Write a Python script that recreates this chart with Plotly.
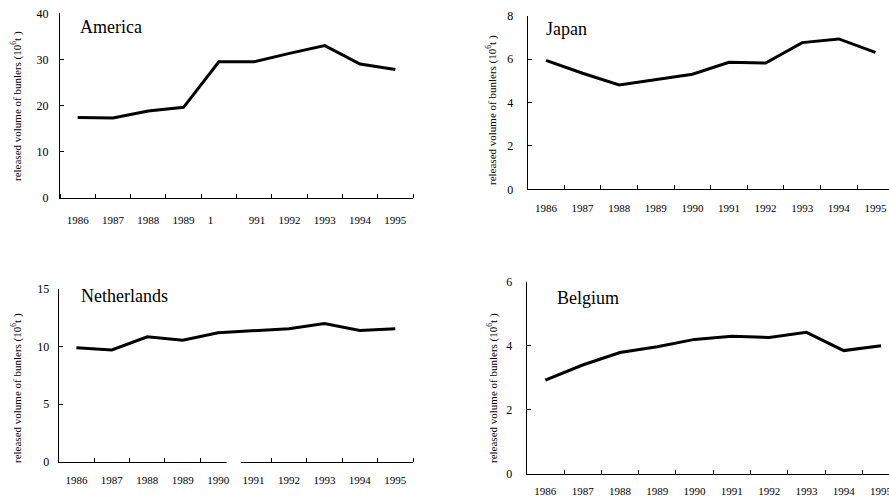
import plotly.graph_objects as go

years = [1986, 1987, 1988, 1989, 1990, 1991, 1992, 1993, 1994, 1995]
america = [17.4, 17.3, 18.8, 19.6, 29.5, 29.5, 31.3, 33.0, 29.0, 27.8]
japan = [5.94, 5.35, 4.81, 5.04, 5.30, 5.85, 5.82, 6.76, 6.93, 6.31]
netherlands = [9.9, 9.7, 10.85, 10.55, 11.2, 11.4, 11.55, 12.0, 11.4, 11.55]
belgium = [2.93, 3.40, 3.79, 3.97, 4.20, 4.30, 4.26, 4.42, 3.85, 4.00]

labels_america = ["1986", "1987", "1988", "1989", "1\u00a0\u00a0\u00a0\u00a0\u00a0\u00a0",
                  "\u00a0\u00a0991", "1992", "1993", "1994", "1995"]
labels_default = [str(y) for y in years]

names = ["America", "Japan", "Netherlands", "Belgium"]
ytitle = "released volume of bunlers (10<sup>6</sup>t )"

W, H = 889, 500
FONT = "Liberation Serif, Times New Roman, serif"

def px(x):
    return x / W

def py(y):
    return 1 - y / H

panels = [
    dict(data=america, labels=labels_america, l=60, r=413, b=197.7, t=13.3, xend=1995.5, ymax=40, dt=10, xs=12, ys=8,
         title_xy=(78, 27), yt_xy=(17, 106)),
    dict(data=japan, labels=labels_default, l=527.7, r=889, b=189.3, t=15.7, xend=1985.5 + (889 - 527.7) / 36.6,
         ymax=8, dt=2, xs=8, ys=11, title_xy=(544, 29), yt_xy=(492, 110)),
    dict(data=netherlands, labels=labels_default, l=58.7, r=413, b=461.7, t=289, xend=1995.5, ymax=15, dt=5, xs=8, ys=6,
         title_xy=(79, 296), yt_xy=(16, 388)),
    dict(data=belgium, labels=labels_default, l=526.7, r=889, b=474, t=281.7, xend=1985.5 + (889 - 526.7) / 37.3,
         ymax=6, dt=2, xs=7, ys=11, title_xy=(555, 298), yt_xy=(492, 388)),
]

fig = go.Figure()
annotations = []
for i, (p, name) in enumerate(zip(panels, names)):
    k = "" if i == 0 else str(i + 1)
    fig.add_trace(go.Scatter(x=years, y=p["data"], mode="lines",
                             line=dict(color="black", width=3),
                             xaxis="x" + k, yaxis="y" + k, showlegend=False,
                             hoverinfo="skip"))
    boundaries = [y - 0.5 for y in years] + [years[-1] + 0.5]
    fig.update_layout(**{
        "xaxis" + k: dict(
            domain=[px(p["l"]), px(p["r"])], anchor="y" + k, automargin=False,
            range=[1985.5, p["xend"]], showline=True, linecolor="black", linewidth=1,
            tickmode="array", tickvals=years, ticktext=p["labels"], ticks="",
            minor=dict(tickmode="array", tickvals=boundaries, ticks="inside", ticklen=4,
                       tickcolor="black", tickwidth=1, showgrid=False),
            showgrid=False, zeroline=False, fixedrange=True,
            ticklabelstandoff=p["xs"], ticklabeloverflow="allow",
            tickfont=dict(family=FONT, size=11, color="black"),
        ),
        "yaxis" + k: dict(
            domain=[py(p["b"]), py(p["t"])], anchor="x" + k, automargin=False,
            range=[0, p["ymax"]], dtick=p["dt"], tick0=0, showline=True, linecolor="black",
            linewidth=1, ticks="inside", ticklen=4, tickcolor="black",
            showgrid=False, zeroline=False, fixedrange=True,
            ticklabelstandoff=p["ys"],
            tickfont=dict(family=FONT, size=12, color="black"),
        ),
    })
    annotations.append(dict(text=name, x=px(p["title_xy"][0]), y=py(p["title_xy"][1]),
                            xref="paper", yref="paper", xanchor="left", yanchor="middle",
                            showarrow=False, font=dict(family=FONT, size=18, color="black")))
    annotations.append(dict(text=ytitle, x=px(p["yt_xy"][0]), y=py(p["yt_xy"][1]),
                            xref="paper", yref="paper", xanchor="center", yanchor="middle",
                            textangle=-90, showarrow=False,
                            font=dict(family=FONT, size=11, color="black")))

fig.update_layout(
    width=W, height=H,
    margin=dict(l=0, r=0, t=0, b=0, pad=0),
    paper_bgcolor="white", plot_bgcolor="white",
    annotations=annotations,
    shapes=[dict(type="rect", xref="paper", yref="paper",
                 x0=px(226.7), x1=px(240.7), y0=py(463), y1=py(455),
                 fillcolor="white", line=dict(width=0), layer="above")],
)

fig.write_html("out.html", config={"displayModeBar": False},
               post_script="document.body.style.margin='0';document.body.style.overflow='hidden';")
